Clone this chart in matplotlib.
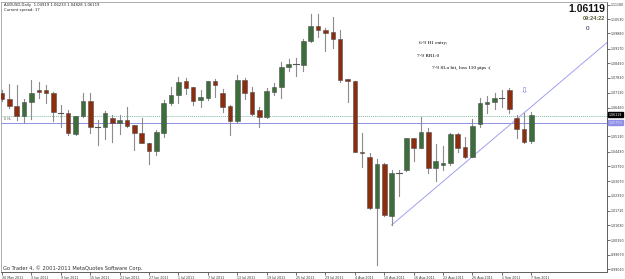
import matplotlib
matplotlib.use("Agg")
import matplotlib.pyplot as plt

# AUDUSD daily bars, 30 May 2011 .. 7 Sep 2011
opens = [1.0714, 1.0684, 1.0653, 1.0608, 1.0670, 1.0727, 1.0725, 1.0714, 1.0624, 1.0621,
         1.0524, 1.0607, 1.0676, 1.0556, 1.0558, 1.0596, 1.0576, 1.0589, 1.0566, 1.0530,
         1.0481, 1.0446, 1.0530, 1.0665, 1.0704, 1.0768, 1.0742, 1.0681, 1.0691, 1.0768,
         1.0711, 1.0653, 1.0585, 1.0773, 1.0716, 1.0635, 1.0601, 1.0719, 1.0739, 1.0831,
         1.0845, 1.0842, 1.0952, 1.1021, 1.1003, 1.0992, 1.0963, 1.0777, 1.0768, 1.0443,
         1.0417, 1.0182, 1.0386, 1.0148, 1.0343, 1.0358, 1.0507, 1.0461, 1.0535, 1.0369,
         1.0381, 1.0392, 1.0524, 1.0463, 1.0420, 1.0569, 1.0660, 1.0672, 1.0690, 1.0725,
         1.0596, 1.0546, 1.04919]
highs = [1.0727, 1.0753, 1.0750, 1.0684, 1.0773, 1.0763, 1.0751, 1.0719, 1.0658, 1.0635,
         1.0607, 1.0714, 1.0714, 1.0589, 1.0631, 1.0612, 1.0612, 1.0647, 1.0566, 1.0596,
         1.0481, 1.0543, 1.0681, 1.0742, 1.0785, 1.0781, 1.0742, 1.0727, 1.0768, 1.0776,
         1.0730, 1.0658, 1.0794, 1.0781, 1.0739, 1.0650, 1.0734, 1.0757, 1.0854, 1.0871,
         1.0873, 1.0963, 1.1075, 1.1075, 1.1011, 1.1061, 1.1003, 1.0779, 1.0770, 1.0527,
         1.0438, 1.0408, 1.0389, 1.0358, 1.0358, 1.0507, 1.0507, 1.0601, 1.0550, 1.0478,
         1.0469, 1.0530, 1.0530, 1.0509, 1.0592, 1.0690, 1.0700, 1.0712, 1.0725, 1.0736,
         1.0612, 1.0622, 1.06233]
lows = [1.0676, 1.0642, 1.0589, 1.0581, 1.0592, 1.0688, 1.0665, 1.0584, 1.0558, 1.0519,
        1.0521, 1.0604, 1.0530, 1.0473, 1.0500, 1.0489, 1.0523, 1.0555, 1.0450, 1.0481,
        1.0385, 1.0427, 1.0512, 1.0658, 1.0668, 1.0707, 1.0658, 1.0650, 1.0681, 1.0696,
        1.0627, 1.0519, 1.0573, 1.0684, 1.0612, 1.0558, 1.0596, 1.0704, 1.0688, 1.0814,
        1.0791, 1.0816, 1.0949, 1.0972, 1.0906, 1.0919, 1.0765, 1.0673, 1.0440, 1.0374,
        1.0177, 0.9921, 1.0148, 1.0105, 1.0240, 1.0355, 1.0400, 1.0458, 1.0346, 1.0309,
        1.0358, 1.0381, 1.0443, 1.0412, 1.0417, 1.0558, 1.0620, 1.0640, 1.0650, 1.0622,
        1.0507, 1.0481, 1.04828]
closes = [1.0684, 1.0653, 1.0608, 1.0670, 1.0711, 1.0719, 1.0711, 1.0625, 1.0623, 1.0527,
          1.0607, 1.0676, 1.0555, 1.0557, 1.0619, 1.0573, 1.0589, 1.0562, 1.0530, 1.0484,
          1.0447, 1.0535, 1.0665, 1.0704, 1.0765, 1.0737, 1.0677, 1.0693, 1.0768, 1.0750,
          1.0650, 1.0585, 1.0773, 1.0714, 1.0616, 1.0601, 1.0722, 1.0739, 1.0833, 1.0845,
          1.0845, 1.0952, 1.1021, 1.1003, 1.0988, 1.0963, 1.0773, 1.0768, 1.0443, 1.0435,
          1.0182, 1.0386, 1.0151, 1.0343, 1.0344, 1.0507, 1.0461, 1.0535, 1.0369, 1.0400,
          1.0392, 1.0524, 1.0461, 1.0417, 1.0561, 1.0665, 1.0672, 1.0690, 1.0691, 1.0638,
          1.0546, 1.0486, 1.06119]

date_labels = ["30 May 2011", "3 Jun 2011", "9 Jun 2011", "15 Jun 2011", "21 Jun 2011",
               "27 Jun 2011", "1 Jul 2011", "7 Jul 2011", "13 Jul 2011", "19 Jul 2011",
               "25 Jul 2011", "29 Jul 2011", "4 Aug 2011", "10 Aug 2011", "16 Aug 2011",
               "22 Aug 2011", "26 Aug 2011", "1 Sep 2011", "7 Sep 2011"]
price_ticks = [1.11180, 1.10530, 1.09880, 1.09170, 1.08490, 1.07830, 1.07130, 1.06460,
               1.05130, 1.04430, 1.03750, 1.03070, 1.02390, 1.01710, 1.01030, 1.00350,
               0.99670, 0.99010]

bid = 1.06119
hline_price = 1.0575      # blue horizontal line "D HL"
grid_price = 1.0607       # green dotted line
trend_x = [53, 82.3]
trend_y = [1.0105, 1.0945]
arrow_bar, arrow_price = 71, 1.0722

W, H = 625, 279
fig = plt.figure(figsize=(W / 100, H / 100), dpi=100)
ax = fig.add_axes([1 / W, 7 / H, 606 / W, 270 / H])
ax.set_xlim(-0.14, 82.3)
ax.set_ylim(0.98887, 1.11318)

up_col, dn_col, wick_col = "#3c6e3c", "#8e2c0e", "#8c8c8c"
for i in range(len(opens)):
    o, h, l, c = opens[i], highs[i], lows[i], closes[i]
    ax.plot([i, i], [l, h], color=wick_col, lw=0.8, zorder=2)
    if abs(c - o) < 0.0002:
        ax.plot([i - 0.35, i + 0.35], [c, c], color="#555555", lw=0.8, zorder=3)
    else:
        col = up_col if c > o else dn_col
        ax.bar(i, abs(c - o), bottom=min(o, c), width=0.62, color=col,
               edgecolor="#505050", linewidth=0.4, zorder=3)

ax.axhline(grid_price, color="#7fbf9f", lw=0.7, ls=(0, (1, 1)), zorder=1)
ax.axhline(hline_price, color="#8f8fe8", lw=0.7, zorder=1)
ax.plot(trend_x, trend_y, color="#a0a0f0", lw=0.7, zorder=1)
ax.text(arrow_bar, arrow_price, "\u21e9", color="#7070e0", fontsize=6,
        ha="center", va="center")
ax.text(0.3, hline_price + 0.0008, "D HL", fontsize=2.2, color="#555555", va="bottom")

# axes styling
for s in ("top", "left"):
    ax.spines[s].set_color("#a0a0a0")
    ax.spines[s].set_linewidth(0.6)
ax.spines["right"].set_color("#606060")
ax.spines["bottom"].set_color("#606060")
ax.spines["right"].set_linewidth(0.7)
ax.spines["bottom"].set_linewidth(0.7)

ax.yaxis.tick_right()
ax.set_yticks(price_ticks)
ax.set_yticklabels([f"{p:.5f}" for p in price_ticks])
ax.tick_params(axis="y", length=2, width=0.5, pad=1, labelsize=2.3, colors="#333333")
ax.set_xticks(range(0, 4 * len(date_labels), 4))
ax.set_xticklabels(date_labels, ha="left")
ax.tick_params(axis="x", length=2, width=0.5, pad=0.6, labelsize=2.3, colors="#333333")

# price boxes on the scale
ax.text(82.55, bid, f"{bid:.5f}", fontsize=2.3, color="white", va="center", ha="left",
        bbox=dict(boxstyle="square,pad=0.15", fc="black", ec="black"), zorder=5,
        clip_on=False)
ax.text(82.55, hline_price, f"{hline_price:.5f}", fontsize=2.3, color="#e8e8ff",
        va="center", ha="left", clip_on=False, zorder=5,
        bbox=dict(boxstyle="square,pad=0.15", fc="#8f8fe8", ec="#8f8fe8"))

# header / footer texts
fig.text(4 / W, 1 - 5 / H, "AUDUSD,Daily  1.04919 1.06233 1.04828 1.06119",
         fontsize=2.7, va="center", color="#222222")
fig.text(4 / W, 1 - 10 / H, "Current spread: 17", fontsize=2.7, va="center",
         color="#222222")
fig.text(605 / W, 1 - 9 / H, f"{bid:.5f}", fontsize=7.5, fontweight="bold",
         family="Liberation Sans", ha="right", va="center", color="#111111")
fig.text(605 / W, 1 - 19 / H, "09:24:22", fontsize=4, fontweight="bold",
         family="Liberation Sans", ha="right", va="center", color="#5a5a3a")
fig.text(588 / W, 1 - 28.5 / H, "0", fontsize=4.5, family="Liberation Sans",
         ha="center", va="center", color="#1a1a6a")
fig.text(3 / W, 1 - 268 / H, "Go Trader 4, \u00a9 2001-2011 MetaQuotes Software Corp.",
         fontsize=3.7, va="center", color="#333333")

serif = "Liberation Serif"
fig.text(419 / W, 1 - 43 / H, "6-9 H1 entry;", fontsize=3.8, family=serif, va="center")
fig.text(417 / W, 1 - 56 / H, "7-9 RR1:0", fontsize=3.8, family=serif, va="center")
fig.text(432 / W, 1 - 68 / H, "7-9 SLo hit, loss 110 pips :(", fontsize=3.8,
         family=serif, va="center")

fig.savefig("out.png", dpi=100, facecolor="white")
